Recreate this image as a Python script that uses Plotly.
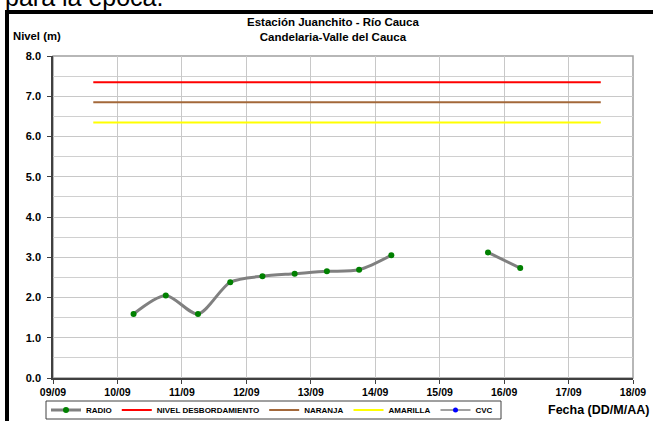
import plotly.graph_objects as go

# ---- data ----
radio_dates = ["2011-09-10 06:00", "2011-09-10 18:00", "2011-09-11 06:00", "2011-09-11 18:00",
               "2011-09-12 06:00", "2011-09-12 18:00", "2011-09-13 06:00", "2011-09-13 18:00",
               "2011-09-14 06:00", "2011-09-14 18:00", "2011-09-15 06:00", "2011-09-15 18:00",
               "2011-09-16 06:00"]
radio_values = [1.59, 2.05, 1.59, 2.38, 2.53, 2.59, 2.65, 2.69, 3.05, None, None, 3.12, 2.73]

threshold_dates = ["2011-09-09 15:00", "2011-09-17 12:00"]
nivel_desbordamiento = [7.35, 7.35]
naranja = [6.85, 6.85]
amarilla = [6.35, 6.35]

cvc_dates = ["2011-09-10 06:00"]
cvc_values = [None]

x_tick_dates = ["2011-09-09", "2011-09-10", "2011-09-11", "2011-09-12", "2011-09-13",
                "2011-09-14", "2011-09-15", "2011-09-16", "2011-09-17", "2011-09-18"]
x_tick_labels = ["09/09", "10/09", "11/09", "12/09", "13/09", "14/09", "15/09", "16/09", "17/09", "18/09"]
y_tick_vals = [0, 1, 2, 3, 4, 5, 6, 7, 8]
y_tick_labels = ["0.0", "1.0", "2.0", "3.0", "4.0", "5.0", "6.0", "7.0", "8.0"]

FONT = "Liberation Sans, Arial, sans-serif"
W, H = 653, 421
L, R, T, B = 53, 20, 56, 43
PW, PH = W - L - R, H - T - B


def px(xp):
    return (xp - L) / PW


def py(yp):
    return (H - B - yp) / PH


fig = go.Figure()
fig.add_trace(go.Scatter(x=radio_dates, y=radio_values, name="RADIO", mode="lines+markers",
                         line=dict(color="#808080", width=3, shape="spline", smoothing=0.8),
                         marker=dict(color="#008000", size=6), connectgaps=False))
fig.add_trace(go.Scatter(x=threshold_dates, y=nivel_desbordamiento, name="NIVEL DESBORDAMIENTO",
                         mode="lines", line=dict(color="#ff0000", width=2)))
fig.add_trace(go.Scatter(x=threshold_dates, y=naranja, name="NARANJA",
                         mode="lines", line=dict(color="#a3683a", width=2)))
fig.add_trace(go.Scatter(x=threshold_dates, y=amarilla, name="AMARILLA",
                         mode="lines", line=dict(color="#ffff00", width=2)))
fig.add_trace(go.Scatter(x=cvc_dates, y=cvc_values, name="CVC", mode="lines+markers",
                         line=dict(color="#a0a0a0", width=2), marker=dict(color="#0000ff", size=5)))

fig.update_layout(
    width=W, height=H,
    margin=dict(l=L, r=R, t=T, b=B, autoexpand=False),
    paper_bgcolor="white", plot_bgcolor="white",
    font=dict(family=FONT, color="black"),
    showlegend=True,
    legend=dict(orientation="h", xref="container", yref="container",
                x=46 / W, y=1 - 410 / H, xanchor="left", yanchor="middle",
                bgcolor="rgba(0,0,0,0)", borderwidth=0,
                font=dict(size=8, family=FONT, weight="bold"),
                itemwidth=30, tracegroupgap=0, itemclick=False),
    xaxis=dict(type="date", range=["2011-09-09", "2011-09-18"], automargin=False,
               tickvals=x_tick_dates, ticktext=x_tick_labels,
               showgrid=True, gridcolor="#c8c8c8", gridwidth=1,
               showline=True, linecolor="#404040", linewidth=1.5,
               ticks="outside", ticklen=4, tickcolor="#404040",
               tickfont=dict(size=10.5, family=FONT, weight="bold"), zeroline=False),
    yaxis=dict(range=[0, 8], tickvals=y_tick_vals, ticktext=y_tick_labels, automargin=False,
               showgrid=True, gridcolor="#c8c8c8", gridwidth=1,
               minor=dict(dtick=0.5, showgrid=True, gridcolor="#d0d0d0", gridwidth=1),
               showline=True, linecolor="#404040", linewidth=1.5,
               ticks="outside", ticklen=4, tickcolor="#404040", ticklabelstandoff=4,
               tickfont=dict(size=11, family=FONT, weight="bold"), zeroline=False),
)

# plot-area border (top/right)
fig.add_shape(type="rect", xref="paper", yref="paper", x0=0, x1=1, y0=0, y1=1,
              line=dict(color="#a0a0a0", width=1.5), layer="below")
# legend box
fig.add_shape(type="rect", xref="paper", yref="paper",
              x0=px(46), x1=px(501), y0=py(401), y1=py(419),
              line=dict(color="#404040", width=1), fillcolor="rgba(0,0,0,0)")
# outer black frame (left and top)
fig.add_shape(type="line", xref="paper", yref="paper",
              x0=px(7), x1=px(7), y0=py(10), y1=py(425),
              line=dict(color="black", width=4))
fig.add_shape(type="line", xref="paper", yref="paper",
              x0=px(5), x1=px(660), y0=py(12), y1=py(12),
              line=dict(color="black", width=4))

fig.add_annotation(text="<b>Estación Juanchito - Río Cauca</b><br><b>Candelaria-Valle del Cauca</b>",
                   xref="paper", yref="paper", x=px(333), y=py(30),
                   xanchor="center", yanchor="middle", showarrow=False,
                   font=dict(size=11.5, family=FONT), align="center")
fig.add_annotation(text="<b>Nivel (m)</b>", xref="paper", yref="paper",
                   x=px(11), y=py(36), xanchor="left", yanchor="middle",
                   showarrow=False, font=dict(size=11.3, family=FONT))
fig.add_annotation(text="<b>Fecha (DD/M/AA)</b>", xref="paper", yref="paper",
                   x=px(651), y=py(410), xanchor="right", yanchor="middle",
                   showarrow=False, font=dict(size=12.5, family=FONT))
fig.add_annotation(text="para la época.", xref="paper", yref="paper",
                   x=px(3), y=py(-3), xanchor="left", yanchor="middle",
                   showarrow=False, font=dict(size=25, family=FONT))

fig.write_html("out.html", config={"displayModeBar": False},
               post_script="document.body.style.margin='0';document.body.style.padding='0';"
                           "document.body.style.overflow='hidden';")
